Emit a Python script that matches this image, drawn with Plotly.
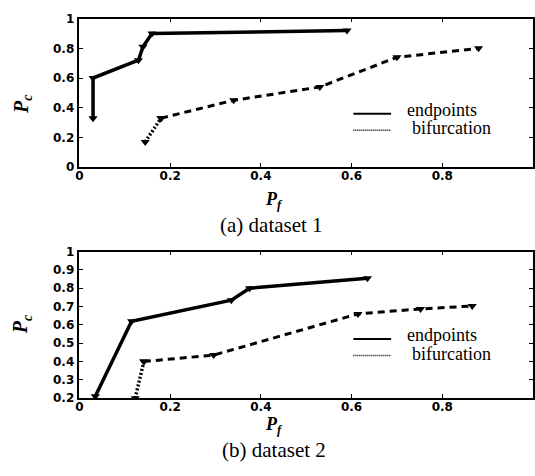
import plotly.graph_objects as go

# dataset 1
d1_end_x = [0.03, 0.03, 0.13, 0.14, 0.16, 0.59]
d1_end_y = [0.33, 0.60, 0.72, 0.81, 0.90, 0.92]
d1_bif_x = [0.145, 0.18, 0.34, 0.53, 0.70, 0.88]
d1_bif_y = [0.17, 0.33, 0.45, 0.54, 0.74, 0.80]

# dataset 2
d2_end_x = [0.035, 0.115, 0.335, 0.375, 0.635]
d2_end_y = [0.21, 0.62, 0.735, 0.80, 0.855]
d2_bif_x = [0.123, 0.142, 0.296, 0.614, 0.752, 0.866]
d2_bif_y = [0.20, 0.40, 0.435, 0.66, 0.687, 0.703]

x_ticks = [0, 0.2, 0.4, 0.6, 0.8, 1]
x_tick_labels = ["0", "0.2", "0.4", "0.6", "0.8", "1"]
y1_ticks = [0, 0.2, 0.4, 0.6, 0.8, 1]
y1_tick_labels = ["0", "0.2", "0.4", "0.6", "0.8", "1"]
y2_ticks = [0.2, 0.3, 0.4, 0.5, 0.6, 0.7, 0.8, 0.9, 1]
y2_tick_labels = ["0.2", "0.3", "0.4", "0.5", "0.6", "0.7", "0.8", "0.9", "1"]

legend_names = ["endpoints", "bifurcation"]
captions = ["(a) dataset 1", "(b) dataset 2"]

W, H = 535, 476
fig = go.Figure()

mk = dict(symbol="triangle-down", size=8, color="black")

def add_set(ex, ey, bx, by, xa, ya):
    fig.add_trace(go.Scatter(x=ex, y=ey, mode="lines+markers", xaxis=xa, yaxis=ya,
                             line=dict(color="black", width=3.5), marker=mk, showlegend=False))
    fig.add_trace(go.Scatter(x=bx[:2], y=by[:2], mode="lines+markers", xaxis=xa, yaxis=ya,
                             line=dict(color="black", width=3.5, dash="2px,2px"), marker=mk, showlegend=False))
    fig.add_trace(go.Scatter(x=bx[1:], y=by[1:], mode="lines+markers", xaxis=xa, yaxis=ya,
                             line=dict(color="black", width=3, dash="7px,5px"), marker=mk, showlegend=False))

add_set(d1_end_x, d1_end_y, d1_bif_x, d1_bif_y, "x", "y")
add_set(d2_end_x, d2_end_y, d2_bif_x, d2_bif_y, "x2", "y2")

def px(v):
    return v / W

def py(v):
    return 1 - v / H

xdom = [px(76), px(533)]
y1dom = [py(165), py(12)]
y2dom = [py(403), py(252)]

tickfont = dict(family="DejaVu Sans", size=12, color="black", weight="bold")
axcommon = dict(showline=True, linecolor="black", linewidth=1.5, mirror="ticks",
                ticks="inside", ticklen=4, tickcolor="black", showgrid=False, zeroline=False,
                tickfont=tickfont)

fig.update_layout(
    width=W, height=H, margin=dict(l=0, r=0, t=0, b=0),
    paper_bgcolor="white", plot_bgcolor="white", showlegend=False,
    xaxis=dict(domain=xdom, range=[0, 1], anchor="y", tickvals=x_ticks, ticktext=x_tick_labels,
               ticklabelstandoff=-3, **axcommon),
    yaxis=dict(domain=y1dom, range=[0, 1], anchor="x", tickvals=y1_ticks, ticktext=y1_tick_labels,
               ticklabelstandoff=1, **axcommon),
    xaxis2=dict(domain=xdom, range=[0, 1], anchor="y2", tickvals=x_ticks, ticktext=x_tick_labels,
                ticklabelstandoff=-3, **axcommon),
    yaxis2=dict(domain=y2dom, range=[0.2, 1], anchor="x2", tickvals=y2_ticks, ticktext=y2_tick_labels,
                ticklabelstandoff=1, **axcommon),
)

serif = "Liberation Serif"

# manual legends (line samples + text)
for base in (0, 232):
    fig.add_shape(type="line", xref="paper", yref="paper", x0=px(352), x1=px(390),
                  y0=py(110 + base), y1=py(110 + base), line=dict(color="black", width=2))
    fig.add_shape(type="line", xref="paper", yref="paper", x0=px(352), x1=px(390),
                  y0=py(127 + base), y1=py(127 + base), line=dict(color="black", width=1.5, dash="1px,1px"))
    fig.add_annotation(xref="paper", yref="paper", x=px(404), y=py(106 + base), text=legend_names[0],
                       showarrow=False, xanchor="left", yanchor="middle",
                       font=dict(family=serif, size=18, color="black"))
    fig.add_annotation(xref="paper", yref="paper", x=px(409), y=py(125 + base), text=legend_names[1],
                       showarrow=False, xanchor="left", yanchor="middle",
                       font=dict(family=serif, size=18, color="black"))

anns = [
    dict(x=px(18), y=py(100), text="<b><i>P<sub>c</sub></i></b>", textangle=-90, size=20),
    dict(x=px(18), y=py(327), text="<b><i>P<sub>c</sub></i></b>", textangle=-90, size=20),
    dict(x=px(272), y=py(199), text="<b><i>P<sub>f</sub></i></b>", size=18),
    dict(x=px(272), y=py(431), text="<b><i>P<sub>f</sub></i></b>", size=18),
    dict(x=px(270), y=py(225), text=captions[0], size=21),
    dict(x=px(272), y=py(456), text=captions[1], size=21),
]
for a in anns:
    size = a.pop("size")
    fig.add_annotation(xref="paper", yref="paper", showarrow=False, xanchor="center", yanchor="middle",
                       font=dict(family=serif, size=size, color="black"), **a)

fig.write_html(
    "out.html",
    config={"displayModeBar": False},
    post_script="document.body.style.margin='0';document.body.style.padding='0';"
                "document.body.style.overflow='hidden';document.documentElement.style.overflow='hidden';",
)
